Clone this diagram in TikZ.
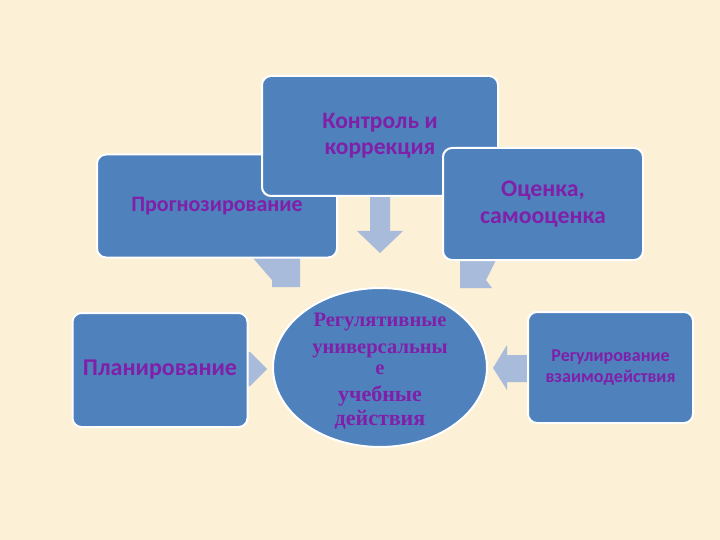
\documentclass[tikz,border=0pt]{standalone}
\usepackage{fontspec}
\setmainfont{Carlito}
\newfontfamily\serifcyr{Liberation Serif}
\usetikzlibrary{shapes.geometric}
\definecolor{bgcream}{RGB}{252,240,214}
\definecolor{boxblue}{RGB}{79,129,189}
\definecolor{txtpurple}{RGB}{128,32,168}
\definecolor{arrowblue}{RGB}{169,187,219}
\tikzset{
  blockbox/.style={draw=white, line width=2pt, fill=boxblue, rounded corners=9pt,
    text=txtpurple, font=\bfseries, align=center, inner sep=0pt},
  blockarrow/.style={fill=arrowblue, draw=none},
  circtext/.style={text=txtpurple, font=\serifcyr\bfseries, inner sep=0pt, anchor=base}
}
\begin{document}
\begin{tikzpicture}[x=1pt,y=-1pt]
\useasboundingbox (0,0) rectangle (720,540);
\fill[bgcream] (0,0) rectangle (720,540);
% arrows (behind boxes)
\fill[blockarrow] (252,250) -- (252,257) -- (272,280) -- (272,287) -- (300,287) -- (300,250) -- cycle;
\fill[blockarrow] (460,250) -- (495,250) -- (495,262) -- (486,280) -- (492,288) -- (460,288) -- cycle;
\fill[blockarrow] (370,190) -- (390,190) -- (390,231) -- (403,231) -- (380,253) -- (357,231) -- (370,231) -- cycle;
\fill[blockarrow] (240,352) -- (250,352) -- (267,369) -- (250,386) -- (240,386) -- cycle;
\fill[blockarrow] (535,355) -- (507,355) -- (507,345) -- (493,368) -- (507,390) -- (507,382) -- (535,382) -- cycle;
% boxes
\node[blockbox, minimum width=240pt, minimum height=103pt, font=\bfseries\fontsize{22}{26}\selectfont] (prog) at (217,206) {Прогнозирование};
\node[blockbox, minimum width=236pt, minimum height=120pt, font=\bfseries\fontsize{23.5}{26}\selectfont] (kontr) at (380,136) {Контроль и\\коррекция};
\node[blockbox, minimum width=200pt, minimum height=112pt, font=\bfseries\fontsize{23.8}{27}\selectfont] (ocen) at (543,204) {Оценка,\\самооценка};
\node[blockbox, minimum width=175pt, minimum height=114pt, font=\bfseries\fontsize{24}{28}\selectfont] (plan) at (160,370) {Планирование};
\node[blockbox, minimum width=165pt, minimum height=111pt, font=\bfseries\fontsize{18}{21}\selectfont] (regul) at (610.5,367.5) {Регулирование\\взаимодействия};
% ellipse
\node[ellipse, draw=white, line width=2pt, fill=boxblue, minimum width=214pt, minimum height=159pt, inner sep=0pt] (ruud) at (380,367.5) {};
\node[circtext, font=\serifcyr\bfseries\fontsize{20.5}{24}\selectfont] (c1) at (380,326) {Регулятивные};
\node[circtext, font=\serifcyr\bfseries\fontsize{20.5}{24}\selectfont] (c2) at (380,353) {универсальны};
\node[circtext, font=\serifcyr\bfseries\fontsize{20.5}{24}\selectfont] (c3) at (380,374) {е};
\node[circtext, font=\serifcyr\bfseries\fontsize{22}{26}\selectfont] (c4) at (380,401) {учебные};
\node[circtext, font=\serifcyr\bfseries\fontsize{22}{26}\selectfont] (c5) at (380,425) {действия};
\end{tikzpicture}
\end{document}
